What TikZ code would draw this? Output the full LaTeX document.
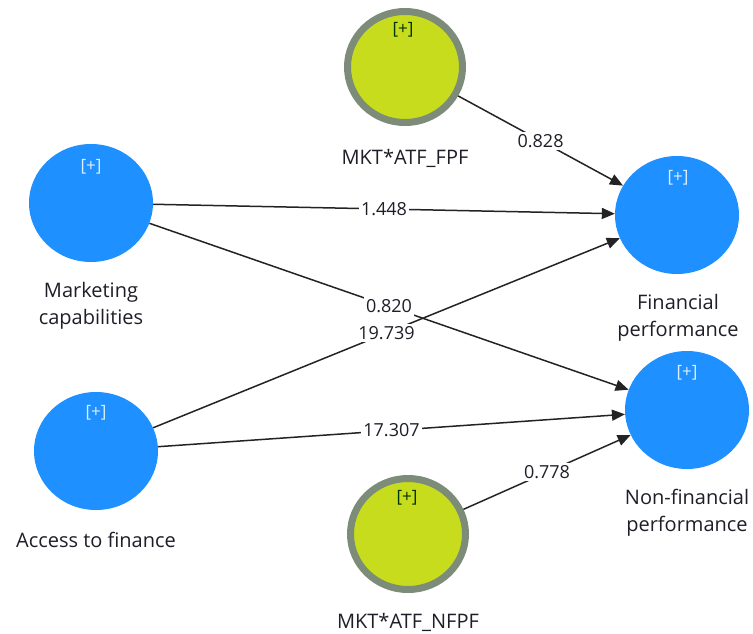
\documentclass[tikz,border=0pt]{standalone}
\usepackage{fontspec}
\setmainfont{Open Sans}
\usetikzlibrary{arrows.meta,shapes.geometric}
\definecolor{lvblue}{RGB}{30,144,255}
\definecolor{lvyellow}{RGB}{200,220,30}
\definecolor{lvring}{RGB}{125,140,120}
\definecolor{edgegray}{RGB}{35,35,35}
\definecolor{txt}{RGB}{30,30,40}
\tikzset{
  latent/.style={ellipse, fill=lvblue, minimum width=124pt, minimum height=118pt, inner sep=0pt},
  moder/.style={ellipse, fill=lvyellow, draw=lvring, line width=7pt, minimum width=115pt, minimum height=111pt, inner sep=0pt},
  plusw/.style={font=\fontsize{17}{19}\selectfont, text=white!85!lvblue, inner sep=0pt},
  plusd/.style={font=\fontsize{17}{19}\selectfont, text=black!80!green, inner sep=0pt},
  cname/.style={font=\fontsize{20}{27}\selectfont, text=txt, align=center, inner sep=0pt},
  lbl/.style={font=\fontsize{18}{20}\selectfont, text=txt, fill=white, inner sep=2.5pt},
  arr/.style={draw=edgegray, line width=1.5pt, -{Triangle[length=13pt,width=11pt]}}
}
\begin{document}
\begin{tikzpicture}[x=1pt,y=-1pt]
\useasboundingbox (0,0) rectangle (753,634);

% constructs
\node[moder]  (fpf)  at (405,67)  {};
\node[latent] (mc)   at (91,203)  {};
\node[latent] (fin)  at (677,215) {};
\node[latent] (nfin) at (687,410) {};
\node[latent] (atf)  at (96,451)  {};
\node[moder]  (nfpf) at (408,534) {};

% expand markers
\node[plusd] (pfpf)  at (403,30)  {[+]};
\node[plusw] (pmc)   at (91,167)  {[+]};
\node[plusw] (pfin)  at (678,178) {[+]};
\node[plusw] (pnfin) at (687,373) {[+]};
\node[plusw] (patf)  at (96,413)  {[+]};
\node[plusd] (pnfpf) at (407,498) {[+]};

% construct names
\node[cname] (tfpf)  at (405,158) {MKT*ATF\_FPF};
\node[cname] (tmc)   at (91,306)  {Marketing\\capabilities};
\node[cname] (tfin)  at (678,318) {Financial\\performance};
\node[cname] (tnfin) at (687,513) {Non-financial\\performance};
\node[cname] (tatf)  at (96,540)  {Access to finance};
\node[cname] (tnfpf) at (408,622) {MKT*ATF\_NFPF};

% paths
\draw[arr] (fpf) -- (fin)  node[lbl,midway] (e1) {0.828};
\draw[arr] (mc)  -- (fin)  node[lbl,midway] (e2) {1.448};
\draw[arr] (mc)  -- (nfin) node[lbl,midway] (e3) {0.820};
\draw[arr] (atf) -- (fin)  node[lbl,midway] (e4) {19.739};
\draw[arr] (atf) -- (nfin) node[lbl,midway] (e5) {17.307};
\draw[arr] (nfpf) -- (nfin) node[lbl,midway] (e6) {0.778};
\end{tikzpicture}
\end{document}
